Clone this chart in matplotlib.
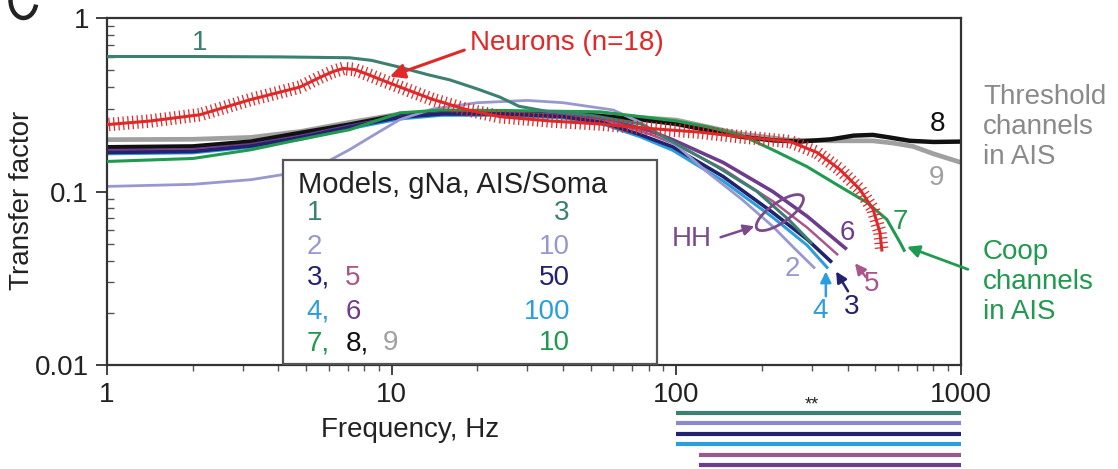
import matplotlib
matplotlib.use("Agg")
import matplotlib.pyplot as plt
import matplotlib.patheffects as pe
import matplotlib.transforms as mtransforms
from matplotlib.patches import Ellipse, Rectangle, Arc
from matplotlib.ticker import LogLocator, NullFormatter

plt.rcParams['font.family'] = ['Liberation Sans', 'DejaVu Sans']

# --- transfer factor curves (frequency in Hz, transfer factor) ---
neuron_f = [1, 1.42, 2.12, 3.18, 4.76, 5.6, 6.2, 6.75, 7.4, 8.2, 9.2, 10.7, 13.9, 18.4, 24, 36,
            54, 74.5, 120, 167, 251, 312, 375, 441, 491, 519, 527]
neuron_t = [0.243, 0.255, 0.277, 0.338, 0.40, 0.455, 0.49, 0.512, 0.505, 0.475, 0.44, 0.40,
            0.34, 0.296, 0.27, 0.255, 0.245, 0.233, 0.22, 0.207, 0.194, 0.168, 0.134, 0.103,
            0.079, 0.058, 0.046]

m1_f = [1, 2, 4, 7.1, 8.5, 10.7, 13.5, 16, 20, 24, 28, 35, 50, 75, 105, 139, 192, 250, 300]
m1_t = [0.6, 0.6, 0.597, 0.59, 0.57, 0.52, 0.47, 0.44, 0.39, 0.35, 0.31, 0.29, 0.275, 0.245,
        0.18, 0.139, 0.1, 0.068, 0.05]

m2_f = [1, 2, 3.2, 4.8, 6, 7.1, 9, 10.7, 14, 20, 30, 40, 60, 75, 100, 128, 170, 218, 260, 307]
m2_t = [0.107, 0.11, 0.117, 0.13, 0.15, 0.174, 0.22, 0.26, 0.3, 0.325, 0.335, 0.325, 0.295,
        0.25, 0.185, 0.13, 0.09, 0.063, 0.047, 0.036]

m3_f = [1, 2, 3.2, 4.8, 7.1, 10.7, 15, 25, 40, 55, 74.5, 97, 146, 218, 288, 352]
m3_t = [0.168, 0.17, 0.183, 0.205, 0.235, 0.268, 0.28, 0.28, 0.27, 0.25, 0.213, 0.181, 0.122,
        0.0757, 0.053, 0.039]

m4_f = [1, 2, 3.2, 4.8, 7.1, 10.7, 15, 25, 40, 55, 74.5, 97, 146, 218, 288, 341]
m4_t = [0.165, 0.167, 0.18, 0.2, 0.23, 0.262, 0.275, 0.275, 0.265, 0.245, 0.207, 0.173, 0.115,
        0.071, 0.049, 0.036]

m5_f = [1, 2, 3.2, 4.8, 7.1, 10.7, 15, 25, 40, 60, 80, 97, 146, 218, 288, 370]
m5_t = [0.17, 0.172, 0.184, 0.206, 0.236, 0.268, 0.28, 0.28, 0.272, 0.25, 0.215, 0.19, 0.135,
        0.088, 0.062, 0.043]

m6_f = [1, 2, 3.2, 4.8, 7.1, 10.7, 15, 25, 40, 60, 80, 97, 146, 218, 288, 397]
m6_t = [0.172, 0.174, 0.186, 0.208, 0.238, 0.27, 0.282, 0.282, 0.275, 0.255, 0.225, 0.199,
        0.147, 0.1, 0.072, 0.0464]

m7_f = [1, 2, 3.2, 4.8, 7.1, 10.7, 15, 25, 54, 75, 100, 130, 167, 218, 288, 375, 467, 549,
        610, 635]
m7_t = [0.149, 0.155, 0.174, 0.2, 0.227, 0.284, 0.295, 0.293, 0.288, 0.27, 0.255, 0.235, 0.213,
        0.174, 0.139, 0.107, 0.0865, 0.069, 0.051, 0.045]

m8_f = [1, 2, 3.2, 4.8, 7.1, 10.7, 15, 25, 50, 75, 100, 130, 167, 220, 272, 350, 420, 490,
        560, 661, 800, 1000]
m8_t = [0.18, 0.182, 0.194, 0.218, 0.243, 0.277, 0.29, 0.285, 0.275, 0.26, 0.245, 0.225, 0.207,
        0.197, 0.194, 0.2, 0.21, 0.212, 0.205, 0.196, 0.193, 0.194]

m9_f = [1, 2, 3.2, 4.8, 7.1, 10.7, 20, 50, 100, 167, 250, 350, 490, 580, 678, 800, 1000]
m9_t = [0.199, 0.2, 0.205, 0.222, 0.25, 0.28, 0.29, 0.28, 0.258, 0.215, 0.198, 0.196, 0.196,
        0.19, 0.182, 0.165, 0.147]

# significance bars below the axis (models 1, 2, 3, 4, 5, 6)
sig_start = [100, 100, 100, 100, 120, 120]
sig_end = [1000, 1000, 1000, 1000, 1000, 1000]

tick_vals_x = [1, 10, 100, 1000]
tick_labels_x = ['1', '10', '100', '1000']
tick_vals_y = [0.01, 0.1, 1]
tick_labels_y = ['0.01', '0.1', '1']

c1 = '#3b8070'
c2 = '#9898d0'
c3 = '#22226e'
c4 = '#2b9fdc'
c5 = '#a8568c'
c6 = '#6c3d8c'
c7 = '#1f9a4e'
c8 = '#111111'
c9 = '#a0a0a0'
cred = '#e02828'
chh = '#7a4a8a'

fig = plt.figure(figsize=(11.18, 4.69), dpi=100)
ax = fig.add_axes([0.0957, 0.2217, 0.7639, 0.7399])
ax.set_xscale('log')
ax.set_yscale('log')
ax.set_xlim(1, 1000)
ax.set_ylim(0.01, 1)

ax.plot(m9_f, m9_t, color=c9, lw=3.4, solid_capstyle='butt', zorder=2)
ax.plot(m8_f, m8_t, color=c8, lw=3.2, solid_capstyle='butt', zorder=2.1)
ax.plot(m6_f, m6_t, color=c6, lw=2.6, solid_capstyle='butt', zorder=2.2)
ax.plot(m5_f, m5_t, color=c5, lw=1.8, solid_capstyle='butt', zorder=2.3)
ax.plot(m3_f, m3_t, color=c3, lw=2.6, solid_capstyle='butt', zorder=2.4)
ax.plot(m4_f, m4_t, color=c4, lw=2.2, solid_capstyle='butt', zorder=2.35)
ax.plot(m2_f, m2_t, color=c2, lw=2.0, solid_capstyle='butt', zorder=2.5)
ax.plot(m7_f, m7_t, color=c7, lw=2.2, solid_capstyle='butt', zorder=2.6)
ax.plot(m1_f, m1_t, color=c1, lw=2.2, solid_capstyle='butt', zorder=2.7)

# neuron mean with error ticks along the curve
ax.plot(neuron_f, neuron_t, color=cred, lw=2.2, zorder=3)
ax.plot(neuron_f, neuron_t, color=cred, lw=0.9, zorder=3,
        path_effects=[pe.TickedStroke(angle=90, spacing=3.4, length=1.3),
                      pe.TickedStroke(angle=-90, spacing=3.4, length=1.3)])

# axes styling
for s in ax.spines.values():
    s.set_linewidth(1.6)
    s.set_color('#333333')
ax.set_xticks(tick_vals_x, labels=tick_labels_x)
ax.set_yticks(tick_vals_y, labels=tick_labels_y)
ax.xaxis.set_minor_locator(LogLocator(base=10, subs=range(2, 10)))
ax.yaxis.set_minor_locator(LogLocator(base=10, subs=range(2, 10)))
ax.xaxis.set_minor_formatter(NullFormatter())
ax.yaxis.set_minor_formatter(NullFormatter())
ax.tick_params(axis='both', which='major', labelsize=20, colors='#333333', labelcolor='#222222')
ax.tick_params(axis='x', which='major', direction='out', length=7, width=1.3, pad=5)
ax.tick_params(axis='x', which='minor', direction='out', length=4, width=1.0, colors='#555555')
ax.tick_params(axis='y', which='major', direction='out', length=8, width=1.3, pad=5)
ax.tick_params(axis='y', which='minor', direction='in', length=5, width=1.0, colors='#555555')

fig.text(22 / 1118, 1 - 200 / 469, 'Transfer factor', rotation=90, ha='center', va='center',
         fontsize=20, color='#222222')
fig.text(410 / 1118, 1 - 430 / 469, 'Frequency, Hz', ha='center', va='center',
         fontsize=20, color='#222222')

# lower stroke of the panel letter, clipped by the top edge
fig.add_artist(Arc((0.235, 4.69), 0.26, 0.36, theta1=180, theta2=340,
                   transform=fig.dpi_scale_trans, color='#222222', lw=3.2))

# model legend box
ax.add_patch(Rectangle((0.206, 0.003), 0.438, 0.588, transform=ax.transAxes,
                       facecolor='white', edgecolor='#555555', lw=1.6, zorder=4))
ax.text(0.224, 0.519, 'Models, gNa, AIS/Soma', transform=ax.transAxes, fontsize=21,
        color='#222222', va='center', ha='left', zorder=5)
rows = [
    (0.438, [('1', c1, 0.234)], ('3', c1)),
    (0.340, [('2', c2, 0.234)], ('10', c2)),
    (0.251, [('3,', c3, 0.234), ('5', c5, 0.279)], ('50', c3)),
    (0.153, [('4,', c4, 0.234), ('6', c6, 0.279)], ('100', c4)),
    (0.063, [('7,', c7, 0.234), ('8,', c8, 0.279), ('9', c9, 0.323)], ('10', c7)),
]
for y, parts, right in rows:
    for txt, col, x in parts:
        ax.text(x, y, txt, transform=ax.transAxes, fontsize=20, color=col,
                va='center', ha='left', zorder=5)
    ax.text(0.542, y, right[0], transform=ax.transAxes, fontsize=20, color=right[1],
            va='center', ha='right', zorder=5)

# curve labels
ax.text(2.12, 0.718, '1', color=c1, fontsize=20, ha='center', va='center')
ax.annotate('Neurons (n=18)', xy=(9.85, 0.46), xytext=(18.8, 0.718), color=cred, fontsize=20,
            ha='left', va='center',
            arrowprops=dict(arrowstyle='-|>', color=cred, lw=2.2, mutation_scale=22,
                            shrinkA=2, shrinkB=0, relpos=(0, 0.3)))
ax.text(830, 0.246, '8', color=c8, fontsize=20, ha='center', va='center')
ax.text(823, 0.12, '9', color=c9, fontsize=20, ha='center', va='center')
ax.text(610, 0.067, '7', color=c7, fontsize=20, ha='center', va='center')
ax.text(255, 0.0356, '2', color=c2, fontsize=20, ha='center', va='center')
ax.text(397, 0.058, '6', color=c6, fontsize=20, ha='center', va='center')
ax.text(319, 0.0204, '4', color=c4, fontsize=20, ha='center', va='center')
ax.text(414, 0.0215, '3', color=c3, fontsize=20, ha='center', va='center')
ax.text(487, 0.0293, '5', color=c5, fontsize=20, ha='center', va='center')

arrow_kw = dict(arrowstyle='-|>', lw=1.8, mutation_scale=16, shrinkA=0, shrinkB=0)
ax.annotate('', xy=(335, 0.0346), xytext=(335, 0.0249), arrowprops=dict(color=c4, **arrow_kw))
ax.annotate('', xy=(364, 0.0346), xytext=(401, 0.0266), arrowprops=dict(color=c3, **arrow_kw))
ax.annotate('', xy=(424, 0.0386), xytext=(463, 0.0322), arrowprops=dict(color=c5, **arrow_kw))

# HH marker
ax.text(113, 0.053, 'HH', color=chh, fontsize=20, ha='center', va='center')
ax.annotate('', xy=(188, 0.063), xytext=(143, 0.0545),
            arrowprops=dict(color=chh, **arrow_kw))
hh_trans = fig.dpi_scale_trans + mtransforms.ScaledTranslation(231, 0.0756, ax.transData)
ax.add_patch(Ellipse((0, 0), 0.56, 0.2, angle=35, transform=hh_trans, fill=False,
                     edgecolor=chh, lw=2.0, zorder=3.5))

# channel group labels on the right
fig.text(983 / 1118, 1 - 127 / 469, 'Threshold\nchannels\nin AIS', color='#8a8a8a',
         fontsize=20, ha='left', va='center', linespacing=1.2)
fig.text(983 / 1118, 1 - 282 / 469, 'Coop\nchannels\nin AIS', color=c7,
         fontsize=20, ha='left', va='center', linespacing=1.2)
ax.annotate('', xy=(646, 0.048), xytext=(1057, 0.0356), annotation_clip=False,
            arrowprops=dict(arrowstyle='-|>', color=c7, lw=2.0, mutation_scale=18,
                            shrinkA=0, shrinkB=0))

# significance bars
ax_sig = fig.add_axes([0.0957, 0.0, 0.7639, 64 / 469])
ax_sig.set_xscale('log')
ax_sig.set_xlim(1, 1000)
ax_sig.set_ylim(5.38, -0.77)
ax_sig.axis('off')
sig_colors = [c1, '#8a8ac8', c3, c4, '#9a5a8a', c6]
for i, (s, e, col) in enumerate(zip(sig_start, sig_end, sig_colors)):
    ax_sig.hlines(i, s, e, color=col, lw=3.0)
fig.text(812 / 1118, 1 - 405 / 469, '**', fontsize=13, ha='center', va='center',
         color='#222222')

fig.savefig('out.png', dpi=100)
